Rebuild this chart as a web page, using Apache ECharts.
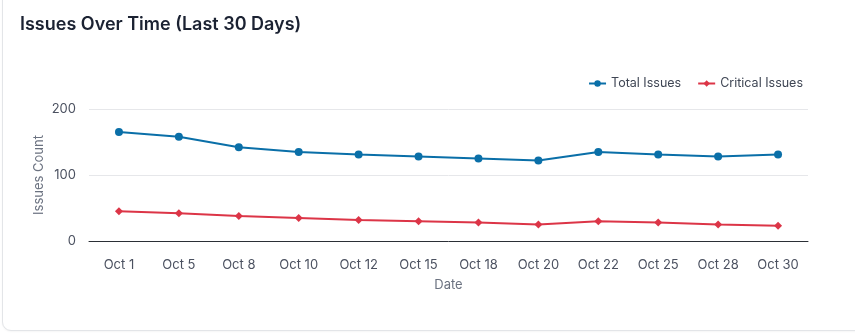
<!DOCTYPE html>
<html>
<head>
<meta charset="utf-8">
<script src="https://cdn.jsdelivr.net/npm/echarts@6/dist/echarts.min.js"></script>
<style>
  html, body { margin: 0; padding: 0; background: #ffffff; overflow: hidden; }
  .card {
    position: absolute; left: 2px; top: -12px; width: 880px; height: 341px;
    border: 1px solid #e3e5e8; border-radius: 9px; background: #fff;
    box-shadow: 0 1px 2px rgba(0,0,0,0.04);
  }
  #chart { position: absolute; left: 0; top: 0; width: 855px; height: 333px; }
</style>
</head>
<body>
<div class="card"></div>
<div id="chart"></div>
<script>
// Issue counts sampled over the last 30 days
const dates = ['Oct 1', 'Oct 5', 'Oct 8', 'Oct 10', 'Oct 12', 'Oct 15', 'Oct 18', 'Oct 20', 'Oct 22', 'Oct 25', 'Oct 28', 'Oct 30'];
const totalIssues = [165, 158, 142, 135, 131, 128, 125, 122, 135, 131, 128, 131];
const criticalIssues = [45, 42, 38, 35, 32, 30, 28, 25, 30, 28, 25, 23];
const yTicks = [0, 100, 200];

const FONT = 'Inter, "Noto Sans", sans-serif';
const chart = echarts.init(document.getElementById('chart'), null, { renderer: 'canvas' });

chart.setOption({
  animation: false,
  textStyle: { fontFamily: FONT },
  title: {
    text: 'Issues Over Time (Last 30 Days)',
    left: 15, top: 11,
    textStyle: { fontFamily: FONT, fontSize: 18, fontWeight: 600, color: '#1b2232' }
  },
  legend: {
    right: 47, top: 72,
    itemWidth: 17, itemHeight: 8, itemGap: 16,
    textStyle: { fontFamily: FONT, fontSize: 12.5, color: '#3f4654' },
    data: ['Total Issues', 'Critical Issues']
  },
  grid: { left: 89, right: 47, top: 109, bottom: 92, containLabel: false },
  xAxis: {
    type: 'category',
    data: dates,
    boundaryGap: true,
    name: 'Date',
    nameLocation: 'middle',
    nameGap: 38,
    nameMoveOverlap: false,
    nameTextStyle: { fontFamily: FONT, fontSize: 13, color: '#6b7280' },
    axisLine: { lineStyle: { color: '#2b2f36', width: 1 } },
    axisTick: { show: false },
    axisLabel: { fontFamily: FONT, fontSize: 13, color: '#4b5160', margin: 18 }
  },
  yAxis: {
    type: 'value',
    min: yTicks[0], max: yTicks[yTicks.length - 1], interval: 100,
    name: 'Issues Count',
    nameLocation: 'middle',
    nameGap: 43,
    nameMoveOverlap: false,
    nameTextStyle: { fontFamily: FONT, fontSize: 13, color: '#6b7280' },
    axisLine: { show: false },
    axisTick: { show: false },
    splitLine: { lineStyle: { color: '#e6e7ea', width: 1 } },
    axisLabel: { fontFamily: FONT, fontSize: 13, color: '#4b5160', margin: 13 }
  },
  series: [
    {
      name: 'Total Issues',
      type: 'line',
      data: totalIssues,
      symbol: 'circle',
      symbolSize: 8,
      lineStyle: { width: 2, color: '#0a6fa8' },
      itemStyle: { color: '#0a6fa8' }
    },
    {
      name: 'Critical Issues',
      type: 'line',
      data: criticalIssues,
      symbol: 'diamond',
      symbolSize: 8,
      lineStyle: { width: 2, color: '#dc3547' },
      itemStyle: { color: '#dc3547' }
    }
  ]
});
</script>
</body>
</html>
